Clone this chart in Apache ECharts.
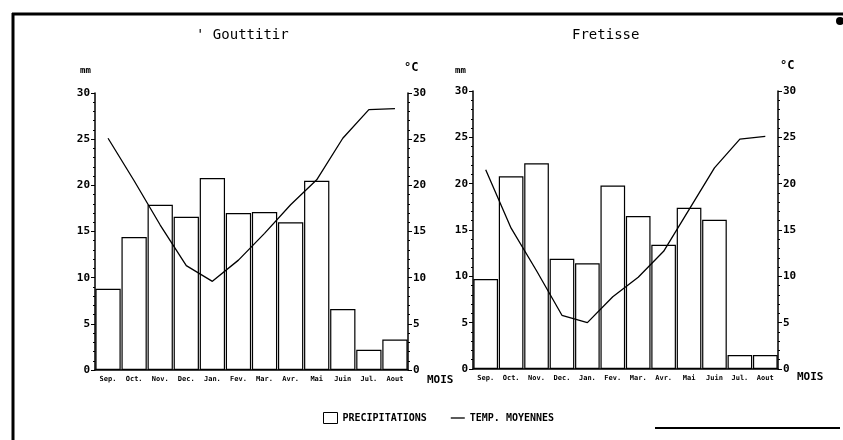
<!DOCTYPE html>
<html>
<head>
<meta charset="utf-8">
<script src="https://cdn.jsdelivr.net/npm/echarts@6/dist/echarts.min.js"></script>
<style>
  html, body { margin: 0; padding: 0; background: #fff; }
  #chart { width: 843px; height: 440px; }
</style>
</head>
<body>
<div id="chart"></div>
<script>
// mois (Sep. -> Aout)
var months = ['Sep.', 'Oct.', 'Nov.', 'Dec.', 'Jan.', 'Fev.', 'Mar.', 'Avr.', 'Mai', 'Juin', 'Jul.', 'Aout'];

// Gouttitir
var gouPrecip = [8.8, 14.4, 17.9, 16.6, 20.8, 17.0, 17.1, 16.0, 20.5, 6.6, 2.2, 3.3];
var gouTemp = [25.1, 20.5, 15.7, 11.3, 9.6, 11.9, 14.8, 17.9, 20.6, 25.1, 28.2, 28.3];

// Fretisse
var frePrecip = [9.7, 20.8, 22.2, 11.9, 11.4, 19.8, 16.5, 13.4, 17.4, 16.1, 1.5, 1.5];
var freTemp = [21.5, 15.2, 10.6, 5.8, 5.0, 7.8, 9.9, 12.7, 17.2, 21.7, 24.8, 25.1];

var FONT = 'DejaVu Sans Mono';

function yAx(gridIndex, pos) {
	return {
		type: 'value', gridIndex: gridIndex, position: pos,
		min: 0, max: 30, interval: 5,
		axisLine: { show: true, lineStyle: { color: '#000', width: 1.5 } },
		axisTick: { show: true, length: 4, lineStyle: { color: '#000' } },
		minorTick: { show: true, splitNumber: 5, length: 2, lineStyle: { color: '#000' } },
		splitLine: { show: false },
		axisLabel: { color: '#000', fontFamily: FONT, fontSize: 11, fontWeight: 'bold', margin: 5 }
	};
}

function xAx(gridIndex) {
	return {
		type: 'category', gridIndex: gridIndex, data: months,
		axisLine: { show: true, lineStyle: { color: '#000', width: 1.5 } },
		axisTick: { show: false },
		axisLabel: { color: '#000', fontFamily: FONT, fontSize: 7, fontWeight: 'bold', margin: 6, interval: 0 }
	};
}

function barS(xi, yi, data) {
	return {
		name: 'PRECIPITATIONS', type: 'bar', xAxisIndex: xi, yAxisIndex: yi,
		data: data, barCategoryGap: '3%',
		itemStyle: { color: '#fff', borderColor: '#000', borderWidth: 1.2 }
	};
}

function lineS(xi, yi, data) {
	return {
		name: 'TEMP. MOYENNES', type: 'line', xAxisIndex: xi, yAxisIndex: yi,
		data: data, symbol: 'none', z: 5,
		lineStyle: { color: '#000', width: 1.3 },
		itemStyle: { color: '#000' }
	};
}

function txt(x, y, s, size, weight) {
	return {
		type: 'text', left: x, top: y,
		style: { text: s, fill: '#000', font: (weight || 'normal') + ' ' + size + 'px "' + FONT + '"' }
	};
}

var chart = echarts.init(document.getElementById('chart'));
chart.setOption({
	backgroundColor: '#fff',
	animation: false,
	grid: [
		{ left: 95, right: 435, top: 93, bottom: 70 },
		{ left: 473, right: 65, top: 91, bottom: 71 }
	],
	xAxis: [xAx(0), xAx(1)],
	yAxis: [yAx(0, 'left'), yAx(0, 'right'), yAx(1, 'left'), yAx(1, 'right')],
	legend: {
		left: 318, top: 407, itemGap: 24, itemWidth: 14, itemHeight: 11,
		textStyle: { color: '#000', fontFamily: FONT, fontSize: 10, fontWeight: 'bold' },
		data: [
			{ name: 'PRECIPITATIONS', icon: 'rect', itemStyle: { color: '#fff', borderColor: '#000', borderWidth: 1 } },
			{ name: 'TEMP. MOYENNES', icon: 'path://M0,0 L14,0 L14,1.3 L0,1.3 Z', itemStyle: { color: '#000' } }
		]
	},
	series: [
		barS(0, 0, gouPrecip), lineS(0, 1, gouTemp),
		barS(1, 2, frePrecip), lineS(1, 3, freTemp)
	],
	graphic: [
		// cadre
		{ type: 'line', shape: { x1: 12, y1: 14, x2: 843, y2: 14 }, style: { stroke: '#000', lineWidth: 3 } },
		{ type: 'line', shape: { x1: 13, y1: 13, x2: 13, y2: 440 }, style: { stroke: '#000', lineWidth: 3 } },
		{ type: 'line', shape: { x1: 655, y1: 428, x2: 840, y2: 428 }, style: { stroke: '#000', lineWidth: 2 } },
		{ type: 'circle', shape: { cx: 840, cy: 21, r: 4 }, style: { fill: '#000' } },
		txt(196, 28, "' Gouttitir", 14),
		txt(572, 28, 'Fretisse', 14),
		txt(80, 66, 'mm', 9, 'bold'),
		txt(404, 62, '°C', 12, 'bold'),
		txt(455, 66, 'mm', 9, 'bold'),
		txt(780, 60, '°C', 12, 'bold'),
		txt(427, 375, 'MOIS', 11, 'bold'),
		txt(797, 372, 'MOIS', 11, 'bold')
	]
});
</script>
</body>
</html>
